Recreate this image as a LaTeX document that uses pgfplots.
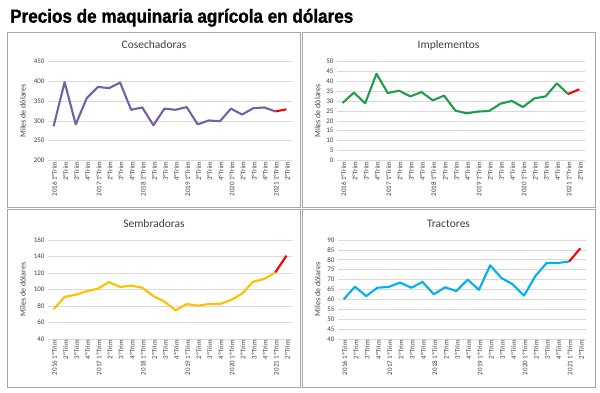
\documentclass[border=0pt]{standalone}
\usepackage{pgfplots}
\pgfplotsset{compat=1.18}
\usepackage{fontspec}
\setmainfont{Carlito}
\newfontfamily\titlefont{Liberation Sans}[FakeStretch=0.9, FakeBold=1.2]
\definecolor{txt}{HTML}{404040}
\definecolor{gridc}{HTML}{D9D9D9}
\definecolor{framec}{HTML}{A6A6A6}
\definecolor{cpurple}{HTML}{7460A5}
\definecolor{cgreen}{HTML}{1E9E48}
\definecolor{cyellow}{HTML}{FFC000}
\definecolor{cblue}{HTML}{00B0F0}
\pgfplotsset{panel/.style={
  scale only axis, anchor=south west,
  xmin=-0.5, xmax=21.5, xtick={0,...,21},
  xticklabels={2016 1ºTrim,2ºTrim,3ºTrim,4ºTrim,2017 1ºTrim,2ºTrim,3ºTrim,4ºTrim,2018 1ºTrim,2ºTrim,3ºTrim,4ºTrim,2019 1ºTrim,2ºTrim,3ºTrim,4ºTrim,2020 1ºTrim,2ºTrim,3ºTrim,4ºTrim,2021 1ºTrim,2ºTrim},
  xticklabel style={rotate=90, anchor=east, font=\fontsize{7}{8}\selectfont, text=txt, inner sep=1pt, yshift=-1pt},
  yticklabel style={font=\fontsize{7}{8}\selectfont, text=txt},
  major tick length=0pt,
  axis line style={draw=none},
  ymajorgrids, grid style={draw=gridc, line width=0.6pt},
  /pgf/number format/assume math mode=true,
  every axis plot/.append style={line width=2.1pt, mark=none, line join=round},
}}
\begin{document}
\begin{tikzpicture}[x=1pt,y=1pt]
\path[use as bounding box] (0,0) rectangle (600,393);
% frames
\draw[framec, line width=1pt] (7.5,360.5) rectangle (300.5,185);
\draw[framec, line width=1pt] (302.5,360.5) rectangle (595,185);
\draw[framec, line width=1pt] (7.5,183) rectangle (300.5,5.5);
\draw[framec, line width=1pt] (302.5,183) rectangle (595,5.5);
% main title
\node[anchor=base west, inner sep=0pt] at (10,370.3) {\titlefont\bfseries\fontsize{19}{22}\selectfont Precios de maquinaria agrícola en dólares};
% panel titles
\node[text=txt, font=\fontsize{11.5}{13}\selectfont] at (154,348) {Cosechadoras};
\node[text=txt, font=\fontsize{11.5}{13}\selectfont] at (448.5,348) {Implementos};
\node[text=txt, font=\fontsize{11.5}{13}\selectfont] at (154,169) {Sembradoras};
\node[text=txt, font=\fontsize{11.5}{13}\selectfont] at (448.5,169) {Tractores};
% y labels
\node[rotate=90, text=txt, font=\fontsize{8}{9}\selectfont] at (23,282) {Miles de dólares};
\node[rotate=90, text=txt, font=\fontsize{8}{9}\selectfont] at (317.5,282) {Miles de dólares};
\node[rotate=90, text=txt, font=\fontsize{8}{9}\selectfont] at (23,103.5) {Miles de dólares};
\node[rotate=90, text=txt, font=\fontsize{8}{9}\selectfont] at (317.5,103.5) {Miles de dólares};

\begin{axis}[panel, at={(48pt,232.7pt)}, width=244pt, height=98.6pt, ymin=200, ymax=450, ytick={200,250,...,450}]
\addplot[cpurple] coordinates {(0,286)(1,398)(2,291)(3,358)(4,386)(5,383)(6,397)(7,328)(8,334)(9,289)(10,331)(11,328)(12,335)(13,291)(14,301)(15,299)(16,331)(17,316)(18,332)(19,334)(20,324)};
\addplot[red] coordinates {(20,324)(21,329)};
\end{axis}

\begin{axis}[panel, at={(337pt,232.7pt)}, width=248pt, height=98.6pt, ymin=0, ymax=50, ytick={0,5,...,50}]
\addplot[cgreen] coordinates {(0,29.1)(1,34.3)(2,28.9)(3,43.9)(4,34.1)(5,35.3)(6,32.4)(7,34.6)(8,30.4)(9,32.8)(10,25.2)(11,23.8)(12,24.7)(13,25.0)(14,28.7)(15,30.1)(16,27.0)(17,31.4)(18,32.4)(19,39.0)(20,33.6)};
\addplot[red] coordinates {(20,33.6)(21,36.0)};
\end{axis}

\begin{axis}[panel, at={(48pt,54pt)}, width=244pt, height=99pt, ymin=40, ymax=160, ytick={40,60,...,160}]
\addplot[cyellow] coordinates {(0,76)(1,91)(2,93.7)(3,97.8)(4,101)(5,109)(6,103)(7,104.6)(8,102.2)(9,92.1)(10,85.3)(11,74.7)(12,82.4)(13,80.4)(14,82.4)(15,82.4)(16,87.3)(17,95)(18,109.5)(19,112.7)(20,120.8)};
\addplot[red] coordinates {(20,120.8)(21,141)};
\end{axis}

\begin{axis}[panel, at={(338pt,54pt)}, width=248pt, height=99pt, ymin=40, ymax=90, ytick={40,45,...,90}]
\addplot[cblue] coordinates {(0,60)(1,66.4)(2,61.7)(3,65.9)(4,66.3)(5,68.5)(6,65.9)(7,68.8)(8,62.6)(9,66.1)(10,64.2)(11,70)(12,64.8)(13,77.2)(14,70.8)(15,67.6)(16,61.9)(17,71.7)(18,78.4)(19,78.4)(20,79.1)};
\addplot[red] coordinates {(20,79.1)(21,85.8)};
\end{axis}
\end{tikzpicture}
\end{document}
